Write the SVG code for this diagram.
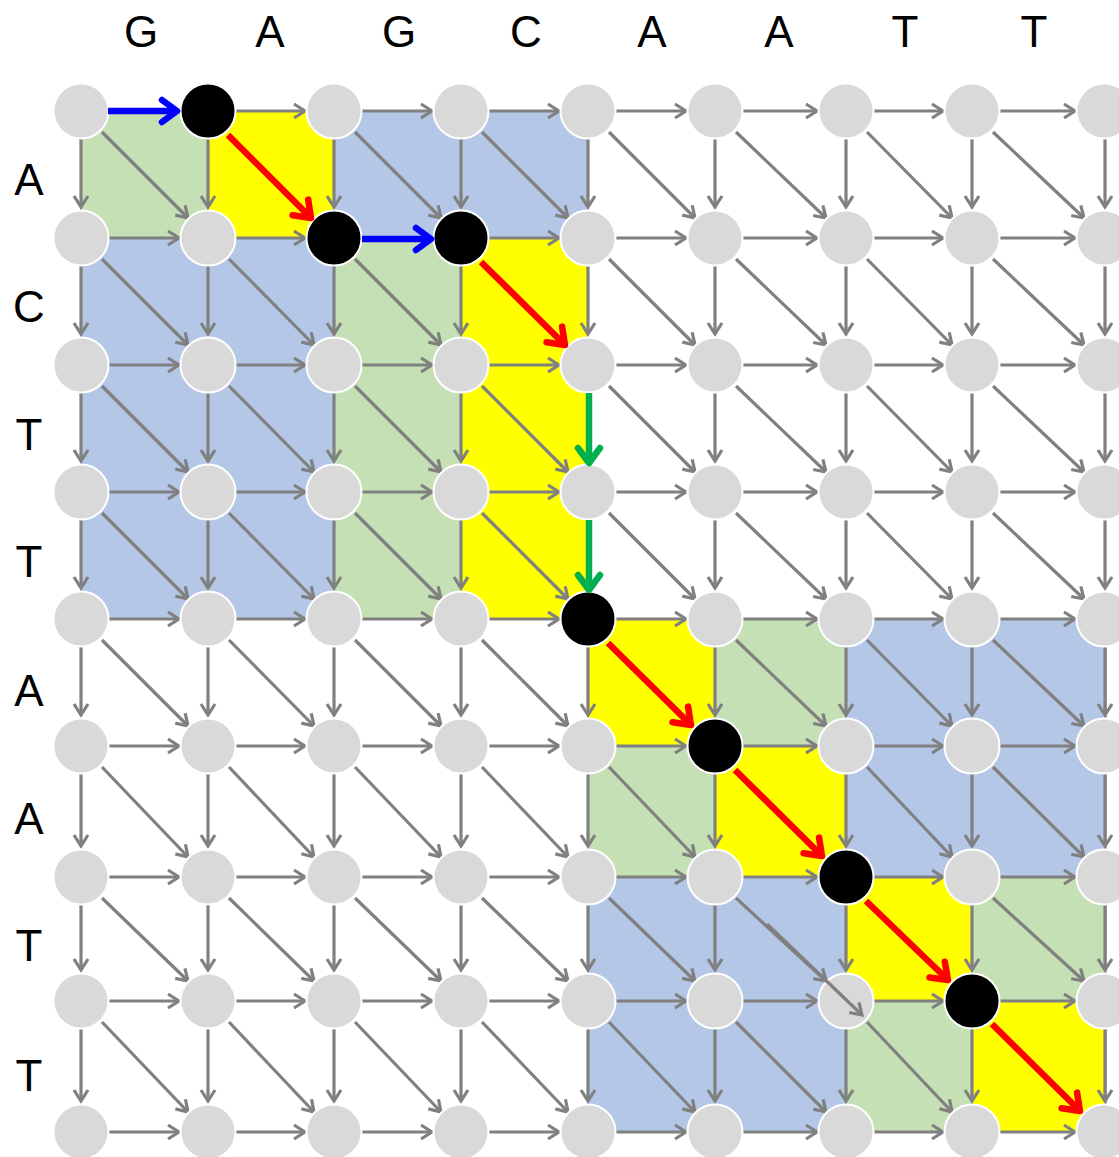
<svg xmlns="http://www.w3.org/2000/svg" width="1119" height="1157" viewBox="0 0 1119 1157">
<style>
.lbl{font-family:"Liberation Sans",Arial,sans-serif;font-size:44px;fill:#000;text-anchor:middle}
.cell{stroke:#5b82c8;stroke-width:1.2}
.gr{fill:#c5e0b4}.ye{fill:#ffff00}.bl{fill:#b4c7e7}
#gray line{stroke:#808080;stroke-width:3.2;marker-end:url(#ah)}
.n{fill:#d9d9d9;stroke:#fff;stroke-width:2}
.k{fill:#000;stroke:#fff;stroke-width:2}
.red{stroke:#ff0000;stroke-width:6.5;marker-end:url(#ahr)}
.blu{stroke:#0000ff;stroke-width:6.5;marker-end:url(#ahb)}
.grn{stroke:#00b050;stroke-width:6.5;marker-end:url(#ahg)}
</style>
<defs>
<marker id="ah" viewBox="-16 -10 20 20" markerWidth="20" markerHeight="20" refX="0" refY="0" orient="auto" markerUnits="userSpaceOnUse"><path d="M-11,-7 L0,0 L-11,7" fill="none" stroke="#808080" stroke-width="3.2"/></marker>
<marker id="ahr" viewBox="-22 -16 30 32" markerWidth="30" markerHeight="32" refX="0" refY="0" orient="auto" markerUnits="userSpaceOnUse"><path d="M-15,-11 L0,0 L-15,11" fill="none" stroke="#ff0000" stroke-width="6.5" stroke-linecap="round" stroke-linejoin="round"/></marker>
<marker id="ahb" viewBox="-22 -16 30 32" markerWidth="30" markerHeight="32" refX="0" refY="0" orient="auto" markerUnits="userSpaceOnUse"><path d="M-15,-11 L0,0 L-15,11" fill="none" stroke="#0000ff" stroke-width="6.5" stroke-linecap="round" stroke-linejoin="round"/></marker>
<marker id="ahg" viewBox="-22 -16 30 32" markerWidth="30" markerHeight="32" refX="0" refY="0" orient="auto" markerUnits="userSpaceOnUse"><path d="M-15,-11 L0,0 L-15,11" fill="none" stroke="#00b050" stroke-width="6.5" stroke-linecap="round" stroke-linejoin="round"/></marker>
</defs>
<rect width="1119" height="1157" fill="#fff"/>
<g id="labels">
<text class="lbl" x="141" y="47">G</text>
<text class="lbl" x="270" y="47">A</text>
<text class="lbl" x="399" y="47">G</text>
<text class="lbl" x="526" y="47">C</text>
<text class="lbl" x="652" y="47">A</text>
<text class="lbl" x="779" y="47">A</text>
<text class="lbl" x="905" y="47">T</text>
<text class="lbl" x="1034" y="47">T</text>
<text class="lbl" x="29" y="195">A</text>
<text class="lbl" x="29" y="322">C</text>
<text class="lbl" x="29" y="450">T</text>
<text class="lbl" x="29" y="577">T</text>
<text class="lbl" x="29" y="706">A</text>
<text class="lbl" x="29" y="834">A</text>
<text class="lbl" x="29" y="961">T</text>
<text class="lbl" x="29" y="1091">T</text>
</g>
<g id="cells">
<rect class="cell gr" x="81" y="111" width="127" height="127"/>
<rect class="cell ye" x="208" y="111" width="126" height="127"/>
<rect class="cell bl" x="334" y="111" width="254" height="127"/>
<rect class="cell bl" x="81" y="238" width="253" height="381"/>
<rect class="cell gr" x="334" y="238" width="127" height="381"/>
<rect class="cell ye" x="461" y="238" width="127" height="381"/>
<rect class="cell ye" x="588" y="619" width="127" height="127"/>
<rect class="cell gr" x="715" y="619" width="131" height="127"/>
<rect class="cell bl" x="846" y="619" width="260" height="258"/>
<rect class="cell gr" x="588" y="746" width="127" height="131"/>
<rect class="cell ye" x="715" y="746" width="131" height="131"/>
<rect class="cell bl" x="588" y="877" width="258" height="255"/>
<rect class="cell ye" x="846" y="877" width="126" height="124"/>
<rect class="cell gr" x="972" y="877" width="134" height="124"/>
<rect class="cell gr" x="846" y="1001" width="126" height="131"/>
<rect class="cell ye" x="972" y="1001" width="134" height="131"/>
</g>
<g id="gray">
<line x1="236" y1="111" x2="305" y2="111"/><line x1="362" y1="111" x2="432" y2="111"/><line x1="489" y1="111" x2="559" y2="111"/><line x1="616" y1="111" x2="686" y2="111"/><line x1="743" y1="111" x2="817" y2="111"/><line x1="874" y1="111" x2="943" y2="111"/><line x1="1000" y1="111" x2="1075" y2="111"/>
<line x1="109" y1="238" x2="179" y2="238"/><line x1="236" y1="238" x2="305" y2="238"/><line x1="489" y1="238" x2="559" y2="238"/><line x1="616" y1="238" x2="686" y2="238"/><line x1="743" y1="238" x2="817" y2="238"/><line x1="874" y1="238" x2="943" y2="238"/><line x1="1000" y1="238" x2="1075" y2="238"/>
<line x1="109" y1="365" x2="179" y2="365"/><line x1="236" y1="365" x2="305" y2="365"/><line x1="362" y1="365" x2="432" y2="365"/><line x1="489" y1="365" x2="559" y2="365"/><line x1="616" y1="365" x2="686" y2="365"/><line x1="743" y1="365" x2="817" y2="365"/><line x1="874" y1="365" x2="943" y2="365"/><line x1="1000" y1="365" x2="1075" y2="365"/>
<line x1="109" y1="492" x2="179" y2="492"/><line x1="236" y1="492" x2="305" y2="492"/><line x1="362" y1="492" x2="432" y2="492"/><line x1="489" y1="492" x2="559" y2="492"/><line x1="616" y1="492" x2="686" y2="492"/><line x1="743" y1="492" x2="817" y2="492"/><line x1="874" y1="492" x2="943" y2="492"/><line x1="1000" y1="492" x2="1075" y2="492"/>
<line x1="109" y1="619" x2="179" y2="619"/><line x1="236" y1="619" x2="305" y2="619"/><line x1="362" y1="619" x2="432" y2="619"/><line x1="489" y1="619" x2="559" y2="619"/><line x1="616" y1="619" x2="686" y2="619"/><line x1="743" y1="619" x2="817" y2="619"/><line x1="874" y1="619" x2="943" y2="619"/><line x1="1000" y1="619" x2="1075" y2="619"/>
<line x1="109" y1="746" x2="179" y2="746"/><line x1="236" y1="746" x2="305" y2="746"/><line x1="362" y1="746" x2="432" y2="746"/><line x1="489" y1="746" x2="559" y2="746"/><line x1="616" y1="746" x2="686" y2="746"/><line x1="743" y1="746" x2="817" y2="746"/><line x1="874" y1="746" x2="943" y2="746"/><line x1="1000" y1="746" x2="1075" y2="746"/>
<line x1="109" y1="877" x2="179" y2="877"/><line x1="236" y1="877" x2="305" y2="877"/><line x1="362" y1="877" x2="432" y2="877"/><line x1="489" y1="877" x2="559" y2="877"/><line x1="616" y1="877" x2="686" y2="877"/><line x1="743" y1="877" x2="817" y2="877"/><line x1="874" y1="877" x2="943" y2="877"/><line x1="1000" y1="877" x2="1075" y2="877"/>
<line x1="109" y1="1001" x2="179" y2="1001"/><line x1="236" y1="1001" x2="305" y2="1001"/><line x1="362" y1="1001" x2="432" y2="1001"/><line x1="489" y1="1001" x2="559" y2="1001"/><line x1="616" y1="1001" x2="686" y2="1001"/><line x1="743" y1="1001" x2="817" y2="1001"/><line x1="874" y1="1001" x2="943" y2="1001"/><line x1="1000" y1="1001" x2="1075" y2="1001"/>
<line x1="109" y1="1132" x2="179" y2="1132"/><line x1="236" y1="1132" x2="305" y2="1132"/><line x1="362" y1="1132" x2="432" y2="1132"/><line x1="489" y1="1132" x2="559" y2="1132"/><line x1="616" y1="1132" x2="686" y2="1132"/><line x1="743" y1="1132" x2="817" y2="1132"/><line x1="874" y1="1132" x2="943" y2="1132"/><line x1="1000" y1="1132" x2="1075" y2="1132"/>
<line x1="81" y1="139" x2="81" y2="207"/><line x1="81" y1="266" x2="81" y2="334"/><line x1="81" y1="393" x2="81" y2="461"/><line x1="81" y1="520" x2="81" y2="588"/><line x1="81" y1="647" x2="81" y2="715"/><line x1="81" y1="774" x2="81" y2="846"/><line x1="81" y1="905" x2="81" y2="970"/><line x1="81" y1="1029" x2="81" y2="1101"/>
<line x1="208" y1="139" x2="208" y2="207"/><line x1="208" y1="266" x2="208" y2="334"/><line x1="208" y1="393" x2="208" y2="461"/><line x1="208" y1="520" x2="208" y2="588"/><line x1="208" y1="647" x2="208" y2="715"/><line x1="208" y1="774" x2="208" y2="846"/><line x1="208" y1="905" x2="208" y2="970"/><line x1="208" y1="1029" x2="208" y2="1101"/>
<line x1="334" y1="139" x2="334" y2="207"/><line x1="334" y1="266" x2="334" y2="334"/><line x1="334" y1="393" x2="334" y2="461"/><line x1="334" y1="520" x2="334" y2="588"/><line x1="334" y1="647" x2="334" y2="715"/><line x1="334" y1="774" x2="334" y2="846"/><line x1="334" y1="905" x2="334" y2="970"/><line x1="334" y1="1029" x2="334" y2="1101"/>
<line x1="461" y1="139" x2="461" y2="207"/><line x1="461" y1="266" x2="461" y2="334"/><line x1="461" y1="393" x2="461" y2="461"/><line x1="461" y1="520" x2="461" y2="588"/><line x1="461" y1="647" x2="461" y2="715"/><line x1="461" y1="774" x2="461" y2="846"/><line x1="461" y1="905" x2="461" y2="970"/><line x1="461" y1="1029" x2="461" y2="1101"/>
<line x1="588" y1="139" x2="588" y2="207"/><line x1="588" y1="266" x2="588" y2="334"/><line x1="588" y1="647" x2="588" y2="715"/><line x1="588" y1="774" x2="588" y2="846"/><line x1="588" y1="905" x2="588" y2="970"/><line x1="588" y1="1029" x2="588" y2="1101"/>
<line x1="715" y1="139" x2="715" y2="207"/><line x1="715" y1="266" x2="715" y2="334"/><line x1="715" y1="393" x2="715" y2="461"/><line x1="715" y1="520" x2="715" y2="588"/><line x1="715" y1="647" x2="715" y2="715"/><line x1="715" y1="774" x2="715" y2="846"/><line x1="715" y1="905" x2="715" y2="970"/><line x1="715" y1="1029" x2="715" y2="1101"/>
<line x1="846" y1="139" x2="846" y2="207"/><line x1="846" y1="266" x2="846" y2="334"/><line x1="846" y1="393" x2="846" y2="461"/><line x1="846" y1="520" x2="846" y2="588"/><line x1="846" y1="647" x2="846" y2="715"/><line x1="846" y1="774" x2="846" y2="846"/><line x1="846" y1="905" x2="846" y2="970"/><line x1="846" y1="1029" x2="846" y2="1101"/>
<line x1="972" y1="139" x2="972" y2="207"/><line x1="972" y1="266" x2="972" y2="334"/><line x1="972" y1="393" x2="972" y2="461"/><line x1="972" y1="520" x2="972" y2="588"/><line x1="972" y1="647" x2="972" y2="715"/><line x1="972" y1="774" x2="972" y2="846"/><line x1="972" y1="905" x2="972" y2="970"/><line x1="972" y1="1029" x2="972" y2="1101"/>
<line x1="1105" y1="139" x2="1105" y2="207"/><line x1="1105" y1="266" x2="1105" y2="334"/><line x1="1105" y1="393" x2="1105" y2="461"/><line x1="1105" y1="520" x2="1105" y2="588"/><line x1="1105" y1="647" x2="1105" y2="715"/><line x1="1105" y1="774" x2="1105" y2="846"/><line x1="1105" y1="905" x2="1105" y2="970"/><line x1="1105" y1="1029" x2="1105" y2="1101"/>
<line x1="102" y1="132" x2="188" y2="218"/><line x1="355" y1="132" x2="441" y2="218"/><line x1="482" y1="132" x2="568" y2="218"/><line x1="609" y1="132" x2="695" y2="218"/><line x1="736" y1="132" x2="826" y2="218"/><line x1="867" y1="132" x2="952" y2="218"/><line x1="993" y1="132" x2="1084" y2="218"/>
<line x1="102" y1="259" x2="188" y2="345"/><line x1="229" y1="259" x2="314" y2="345"/><line x1="355" y1="259" x2="441" y2="345"/><line x1="609" y1="259" x2="695" y2="345"/><line x1="736" y1="259" x2="826" y2="345"/><line x1="867" y1="259" x2="952" y2="345"/><line x1="993" y1="259" x2="1084" y2="345"/>
<line x1="102" y1="386" x2="188" y2="472"/><line x1="229" y1="386" x2="314" y2="472"/><line x1="355" y1="386" x2="441" y2="472"/><line x1="482" y1="386" x2="568" y2="472"/><line x1="609" y1="386" x2="695" y2="472"/><line x1="736" y1="386" x2="826" y2="472"/><line x1="867" y1="386" x2="952" y2="472"/><line x1="993" y1="386" x2="1084" y2="472"/>
<line x1="102" y1="513" x2="188" y2="599"/><line x1="229" y1="513" x2="314" y2="599"/><line x1="355" y1="513" x2="441" y2="599"/><line x1="482" y1="513" x2="568" y2="599"/><line x1="609" y1="513" x2="695" y2="599"/><line x1="736" y1="513" x2="826" y2="599"/><line x1="867" y1="513" x2="952" y2="599"/><line x1="993" y1="513" x2="1084" y2="599"/>
<line x1="102" y1="640" x2="188" y2="726"/><line x1="229" y1="640" x2="314" y2="726"/><line x1="355" y1="640" x2="441" y2="726"/><line x1="482" y1="640" x2="568" y2="726"/><line x1="736" y1="640" x2="826" y2="726"/><line x1="867" y1="640" x2="952" y2="726"/><line x1="993" y1="640" x2="1084" y2="726"/>
<line x1="102" y1="767" x2="188" y2="857"/><line x1="229" y1="767" x2="314" y2="857"/><line x1="355" y1="767" x2="441" y2="857"/><line x1="482" y1="767" x2="568" y2="857"/><line x1="609" y1="767" x2="695" y2="857"/><line x1="867" y1="767" x2="952" y2="857"/><line x1="993" y1="767" x2="1084" y2="857"/>
<line x1="102" y1="898" x2="188" y2="981"/><line x1="229" y1="898" x2="314" y2="981"/><line x1="355" y1="898" x2="441" y2="981"/><line x1="482" y1="898" x2="568" y2="981"/><line x1="609" y1="898" x2="695" y2="981"/><line x1="736" y1="898" x2="826" y2="981"/><line x1="993" y1="898" x2="1084" y2="981"/>
<line x1="102" y1="1022" x2="188" y2="1112"/><line x1="229" y1="1022" x2="314" y2="1112"/><line x1="355" y1="1022" x2="441" y2="1112"/><line x1="482" y1="1022" x2="568" y2="1112"/><line x1="609" y1="1022" x2="695" y2="1112"/><line x1="736" y1="1022" x2="826" y2="1112"/><line x1="867" y1="1022" x2="952" y2="1112"/>
</g>
<g id="nodes">
<g id="r0"><circle class="n" cx="81" cy="111" r="27.5"/><circle class="k" cx="208" cy="111" r="27.5"/><circle class="n" cx="334" cy="111" r="27.5"/><circle class="n" cx="461" cy="111" r="27.5"/><circle class="n" cx="588" cy="111" r="27.5"/><circle class="n" cx="715" cy="111" r="27.5"/><circle class="n" cx="846" cy="111" r="27.5"/><circle class="n" cx="972" cy="111" r="27.5"/><circle class="n" cx="1104" cy="111" r="27.5"/></g>
<g id="r1"><circle class="n" cx="81" cy="238" r="27.5"/><circle class="n" cx="208" cy="238" r="27.5"/><circle class="k" cx="334" cy="238" r="27.5"/><circle class="k" cx="461" cy="238" r="27.5"/><circle class="n" cx="588" cy="238" r="27.5"/><circle class="n" cx="715" cy="238" r="27.5"/><circle class="n" cx="846" cy="238" r="27.5"/><circle class="n" cx="972" cy="238" r="27.5"/><circle class="n" cx="1104" cy="238" r="27.5"/></g>
<g id="r2"><circle class="n" cx="81" cy="365" r="27.5"/><circle class="n" cx="208" cy="365" r="27.5"/><circle class="n" cx="334" cy="365" r="27.5"/><circle class="n" cx="461" cy="365" r="27.5"/><circle class="n" cx="588" cy="365" r="27.5"/><circle class="n" cx="715" cy="365" r="27.5"/><circle class="n" cx="846" cy="365" r="27.5"/><circle class="n" cx="972" cy="365" r="27.5"/><circle class="n" cx="1104" cy="365" r="27.5"/></g>
<g id="r3"><circle class="n" cx="81" cy="492" r="27.5"/><circle class="n" cx="208" cy="492" r="27.5"/><circle class="n" cx="334" cy="492" r="27.5"/><circle class="n" cx="461" cy="492" r="27.5"/><circle class="n" cx="588" cy="492" r="27.5"/><circle class="n" cx="715" cy="492" r="27.5"/><circle class="n" cx="846" cy="492" r="27.5"/><circle class="n" cx="972" cy="492" r="27.5"/><circle class="n" cx="1104" cy="492" r="27.5"/></g>
<g id="r4"><circle class="n" cx="81" cy="619" r="27.5"/><circle class="n" cx="208" cy="619" r="27.5"/><circle class="n" cx="334" cy="619" r="27.5"/><circle class="n" cx="461" cy="619" r="27.5"/><circle class="k" cx="588" cy="619" r="27.5"/><circle class="n" cx="715" cy="619" r="27.5"/><circle class="n" cx="846" cy="619" r="27.5"/><circle class="n" cx="972" cy="619" r="27.5"/><circle class="n" cx="1104" cy="619" r="27.5"/></g>
<g id="r5"><circle class="n" cx="81" cy="746" r="27.5"/><circle class="n" cx="208" cy="746" r="27.5"/><circle class="n" cx="334" cy="746" r="27.5"/><circle class="n" cx="461" cy="746" r="27.5"/><circle class="n" cx="588" cy="746" r="27.5"/><circle class="k" cx="715" cy="746" r="27.5"/><circle class="n" cx="846" cy="746" r="27.5"/><circle class="n" cx="972" cy="746" r="27.5"/><circle class="n" cx="1104" cy="746" r="27.5"/></g>
<g id="r6"><circle class="n" cx="81" cy="877" r="27.5"/><circle class="n" cx="208" cy="877" r="27.5"/><circle class="n" cx="334" cy="877" r="27.5"/><circle class="n" cx="461" cy="877" r="27.5"/><circle class="n" cx="588" cy="877" r="27.5"/><circle class="n" cx="715" cy="877" r="27.5"/><circle class="k" cx="846" cy="877" r="27.5"/><circle class="n" cx="972" cy="877" r="27.5"/><circle class="n" cx="1104" cy="877" r="27.5"/></g>
<g id="r7"><circle class="n" cx="81" cy="1001" r="27.5"/><circle class="n" cx="208" cy="1001" r="27.5"/><circle class="n" cx="334" cy="1001" r="27.5"/><circle class="n" cx="461" cy="1001" r="27.5"/><circle class="n" cx="588" cy="1001" r="27.5"/><circle class="n" cx="715" cy="1001" r="27.5"/><circle class="n" cx="846" cy="1001" r="27.5"/><circle class="k" cx="972" cy="1001" r="27.5"/><circle class="n" cx="1104" cy="1001" r="27.5"/></g>
<g id="r8"><circle class="n" cx="81" cy="1132" r="27.5"/><circle class="n" cx="208" cy="1132" r="27.5"/><circle class="n" cx="334" cy="1132" r="27.5"/><circle class="n" cx="461" cy="1132" r="27.5"/><circle class="n" cx="588" cy="1132" r="27.5"/><circle class="n" cx="715" cy="1132" r="27.5"/><circle class="n" cx="846" cy="1132" r="27.5"/><circle class="n" cx="972" cy="1132" r="27.5"/><circle class="n" cx="1104" cy="1132" r="27.5"/></g>
</g>
<g id="path-connectors">
<line x1="767" y1="924" x2="862" y2="1015" stroke="#808080" stroke-width="3.2" marker-end="url(#ah)"/>
<line class="blu" x1="108" y1="111" x2="177" y2="111"/>
<line class="blu" x1="362" y1="239" x2="431" y2="239"/>
<line class="red" x1="228" y1="135" x2="311" y2="218"/>
<line class="red" x1="481" y1="262" x2="565" y2="345"/>
<line class="red" x1="608" y1="643" x2="691" y2="725"/>
<line class="red" x1="735" y1="770" x2="822" y2="856"/>
<line class="red" x1="866" y1="901" x2="948" y2="980"/>
<line class="red" x1="992" y1="1024" x2="1080" y2="1111"/>
<line class="grn" x1="589" y1="393" x2="589" y2="463"/>
<line class="grn" x1="589" y1="520" x2="589" y2="590"/>
</g>
</svg>
